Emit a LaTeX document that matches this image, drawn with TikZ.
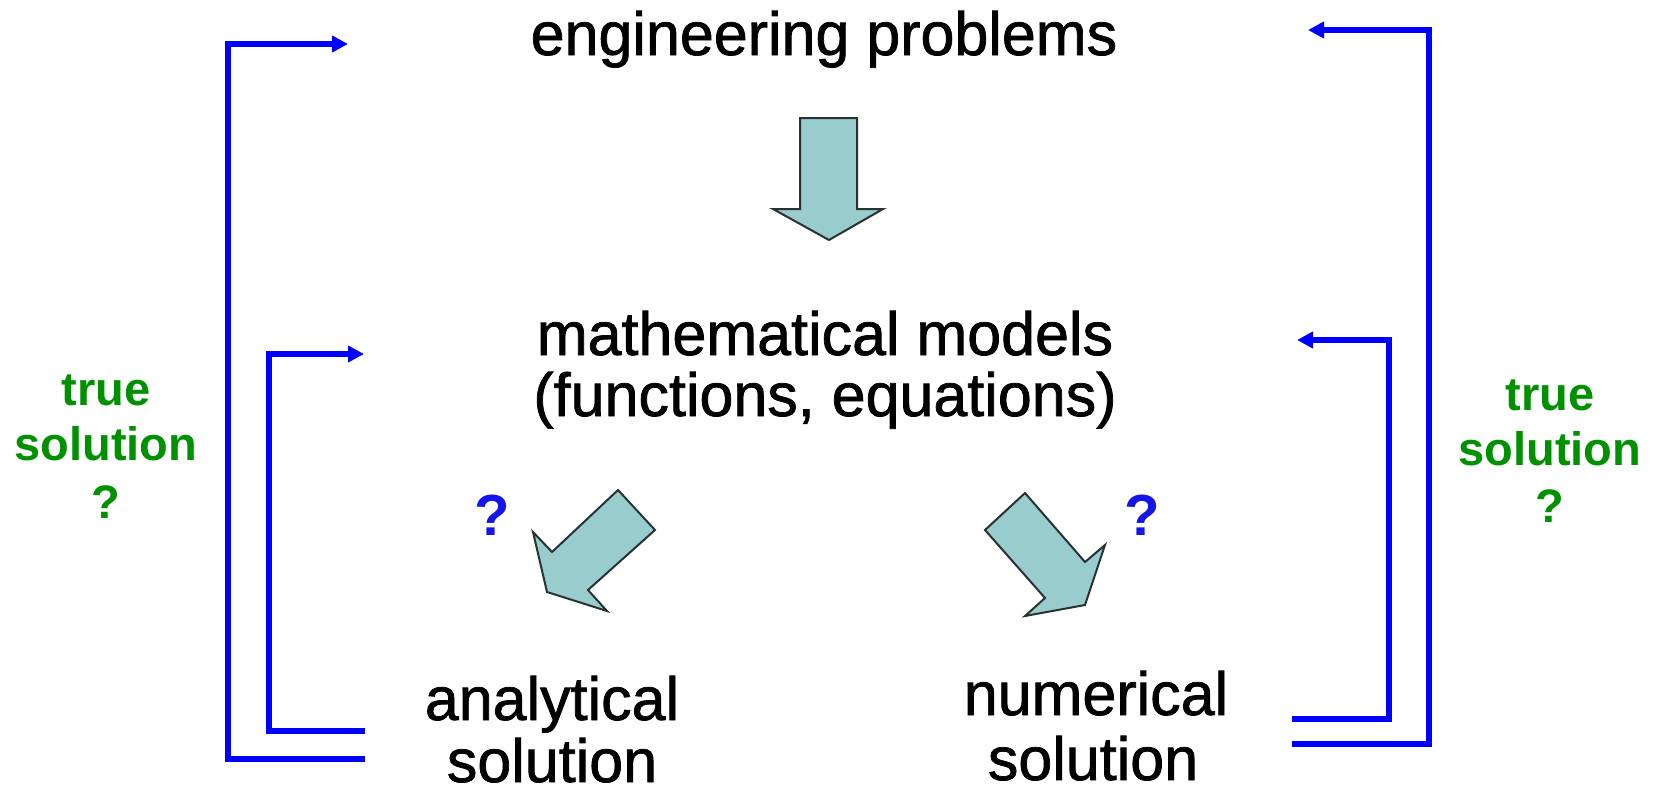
\documentclass[tikz,border=0pt]{standalone}
\usepackage{fontspec}
\setmainfont{Liberation Sans}
\newfontfamily\heavysans[FakeBold=1.2]{Liberation Sans}
\usetikzlibrary{arrows.meta}
\definecolor{arrowfill}{RGB}{153,204,204}
\definecolor{arrowedge}{RGB}{40,50,50}
\definecolor{tgreen}{RGB}{0,145,0}
\definecolor{qblue}{RGB}{20,20,235}
\tikzset{
  maintext/.style={font=\heavysans\fontsize{61}{66}\selectfont, inner sep=0pt, anchor=base},
  greentext/.style={font=\bfseries\fontsize{47}{52}\selectfont, text=tgreen, inner sep=0pt, anchor=base},
  qmark/.style={font=\bfseries\fontsize{58}{60}\selectfont, text=qblue, inner sep=0pt, anchor=base},
  blockarrow/.style={fill=arrowfill, draw=arrowedge, line width=2pt, line join=miter},
  feedback/.style={draw=blue, line width=6pt, -{Triangle[length=16pt,width=16pt]}}
}
\begin{document}
\begin{tikzpicture}[x=1pt,y=-1pt]
\useasboundingbox (0,0) rectangle (1654,795);
% main texts
\node[maintext] (eng) at (824,55) {engineering problems};
\node[maintext] (mod1) at (825,355) {mathematical models};
\node[maintext] (mod2) at (825,416) {(functions, equations)};
\node[maintext] (ana1) at (552,720) {analytical};
\node[maintext] (ana2) at (552,782) {solution};
\node[maintext] (num1) at (1096,715) {numerical};
\node[maintext] (num2) at (1093,780) {solution};
% green labels
\node[greentext] (lt1) at (106,405) {true};
\node[greentext] (lt2) at (106,460) {solution};
\node[greentext] (lt3) at (106,518) {?};
\node[greentext] (rt1) at (1550,410) {true};
\node[greentext] (rt2) at (1550,465) {solution};
\node[greentext] (rt3) at (1550,522) {?};
% blue question marks
\node[qmark] (q1) at (492,535) {?};
\node[qmark] (q2) at (1142,535) {?};
% block arrows
\draw[blockarrow] (800,118) -- (857,118) -- (857,209) -- (883,209) -- (829,240) -- (773,209) -- (800,209) -- cycle;
\draw[blockarrow] (618,490) -- (655,530) -- (588,590) -- (607,611) -- (547,592) -- (533,532) -- (552,552) -- cycle;
\draw[blockarrow] (1025,493) -- (985,530) -- (1045,598) -- (1025,616) -- (1085,605) -- (1105,545) -- (1085,562) -- cycle;
% feedback connectors
\coordinate (lo-s) at (365,759);
\coordinate (lo-e) at (348,44);
\coordinate (li-s) at (365,731);
\coordinate (li-e) at (364,354);
\coordinate (ro-s) at (1292,744);
\coordinate (ro-e) at (1308,30);
\coordinate (ri-s) at (1292,719);
\coordinate (ri-e) at (1297,340);
\draw[feedback] (lo-s) -- (228,759) -- (228,44) -- (lo-e);
\draw[feedback] (li-s) -- (269,731) -- (269,354) -- (li-e);
\draw[feedback] (ro-s) -- (1429,744) -- (1429,30) -- (ro-e);
\draw[feedback] (ri-s) -- (1389,719) -- (1389,340) -- (ri-e);
\end{tikzpicture}
\end{document}
